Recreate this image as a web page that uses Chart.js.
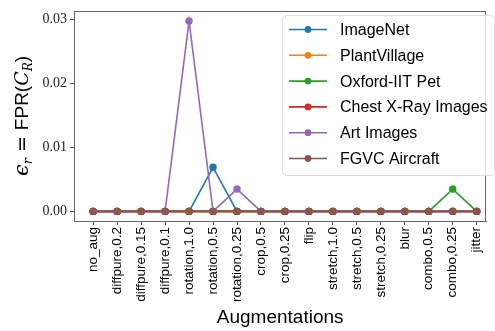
<!DOCTYPE html>
<html><head><meta charset="utf-8">
<script src="https://cdn.jsdelivr.net/npm/chart.js@4/dist/chart.umd.min.js"></script>
<style>html,body{margin:0;padding:0;background:#fff}#w{width:495px;height:331px}</style>
</head><body><div id="w"><canvas id="c"></canvas></div>
<script>
const categories = ["no_aug","diffpure,0.2","diffpure,0.15","diffpure,0.1","rotation,1.0","rotation,0.5","rotation,0.25","crop,0.5","crop,0.25","flip","stretch,1.0","stretch,0.5","stretch,0.25","blur","combo,0.5","combo,0.25","jitter"];
const imagenet    = [0,0,0,0,0,0.0069,0,0,0,0,0,0,0,0,0,0,0];
const plantvillage= [0,0,0,0,0,0,0,0,0,0,0,0,0,0,0,0,0];
const oxfordPet   = [0,0,0,0,0,0,0,0,0,0,0,0,0,0,0,0.0035,0];
const chestXray   = [0,0,0,0,0,0,0,0,0,0,0,0,0,0,0,0,0];
const artImages   = [0,0,0,0,0.0298,0,0.0035,0,0,0,0,0,0,0,0,0,0];
const fgvc        = [0,0,0,0,0,0,0,0,0,0,0,0,0,0,0,0,0];
const seriesNames = ["ImageNet","PlantVillage","Oxford-IIT Pet","Chest X-Ray Images","Art Images","FGVC Aircraft"];
const seriesData  = [imagenet, plantvillage, oxfordPet, chestXray, artImages, fgvc];
const colors = ["#1f77b4","#ff7f0e","#2ca02c","#d62728","#9467bd","#8c564b"];
const yTicks = [0, 0.01, 0.02, 0.03];

const datasets = seriesData.map((d, i) => ({
  label: seriesNames[i],
  data: d.map((v, j) => ({x: j, y: v})),
  borderColor: colors[i], backgroundColor: colors[i],
  pointBackgroundColor: colors[i], pointBorderColor: colors[i],
  borderWidth: 1.6, pointRadius: 3.7, pointBorderWidth: 0,
  order: seriesNames.length - i, tension: 0
}));

const frame = {
  id: 'frame',
  afterDatasetsDraw(chart) {
    const a = chart.chartArea, ctx = chart.ctx;
    ctx.save(); ctx.strokeStyle = '#666'; ctx.lineWidth = 1;
    ctx.strokeRect(Math.round(a.left)+0.5, Math.round(a.top)+0.5, Math.round(a.right-a.left)-1, Math.round(a.bottom-a.top));
    ctx.restore();
  }
};
const legendP = {
  id: 'legendP',
  afterDraw(chart) {
    const ctx = chart.ctx;
    const x0 = 282, y0 = 15, w = 212, h = 160;
    ctx.save();
    ctx.globalAlpha = 0.8; ctx.fillStyle = '#fff';
    ctx.beginPath(); ctx.roundRect(x0+0.5, y0+0.5, w, h, 4); ctx.fill();
    ctx.globalAlpha = 1; ctx.strokeStyle = '#dedede'; ctx.lineWidth = 1; ctx.stroke();
    ctx.font = '16px "Liberation Sans"'; ctx.textBaseline = 'middle'; ctx.textAlign = 'left';
    seriesNames.forEach((n, i) => {
      const y = 29.5 + i * 25.8;
      ctx.strokeStyle = colors[i]; ctx.lineWidth = 1.6;
      ctx.beginPath(); ctx.moveTo(289, y); ctx.lineTo(327, y); ctx.stroke();
      ctx.fillStyle = colors[i]; ctx.beginPath(); ctx.arc(308, y, 3.4, 0, Math.PI*2); ctx.fill();
      ctx.fillStyle = '#000'; ctx.fillText(n, 340, y + 1);
    });
    ctx.restore();
  }
};
const yTitle = {
  id: 'yTitle',
  afterDraw(chart) {
    const ctx = chart.ctx;
    const segs = [
      {t:'ϵ', f:'italic 21px "DejaVu Serif"', dy:0},
      {t:'r', f:'italic 13px "DejaVu Serif"', dy:4},
      {t:' = ', f:'19px "DejaVu Sans"', dy:0},
      {t:'FPR(', f:'19px "Liberation Sans"', dy:0},
      {t:'C', f:'italic 19px "DejaVu Serif"', dy:0},
      {t:'R', f:'italic 12px "DejaVu Serif"', dy:4},
      {t:')', f:'19px "Liberation Sans"', dy:0}
    ];
    ctx.save();
    let total = 0;
    segs.forEach(s => { ctx.font = s.f; s.w = ctx.measureText(s.t).width; total += s.w; });
    ctx.translate(28, 116); ctx.rotate(-Math.PI/2);
    ctx.fillStyle = '#000'; ctx.textBaseline = 'alphabetic'; ctx.textAlign = 'left';
    let x = -total/2;
    segs.forEach(s => { ctx.font = s.f; ctx.fillText(s.t, x, s.dy); x += s.w; });
    ctx.restore();
  }
};

new Chart(document.getElementById('c'), {
  type: 'line',
  data: { datasets },
  options: {
    responsive: true, maintainAspectRatio: false, animation: false,
    layout: { padding: { top: 5, right: 1, left: 0, bottom: 0 } },
    plugins: { legend: { display: false }, tooltip: { enabled: false } },
    scales: {
      x: {
        type: 'linear', min: -0.8, max: 16.4,
        afterBuildTicks: s => { s.ticks = categories.map((_, i) => ({ value: i })); },
        afterFit: s => { s.height = 110; },
        ticks: { callback: v => categories[v], minRotation: 90, maxRotation: 90, autoSkip: false,
                 font: { family: 'Liberation Sans', size: 13.5 }, color: '#000', padding: 2 },
        grid: { drawOnChartArea: false, drawTicks: true, tickLength: 4, color: '#555' },
        border: { display: true, color: '#666' },
        title: { display: true, text: 'Augmentations', font: { family: 'Liberation Sans', size: 19 }, color: '#000', padding: { top: 0, bottom: 2 } }
      },
      y: {
        min: -0.0015, max: 0.0313,
        afterBuildTicks: s => { s.ticks = yTicks.map(v => ({ value: v })); },
        afterFit: s => { s.width = 74; },
        ticks: { callback: v => v.toFixed(2), font: { family: 'Liberation Serif', size: 14 }, color: '#222', padding: 3 },
        grid: { drawOnChartArea: false, drawTicks: true, tickLength: 4, color: '#555' },
        border: { display: true, color: '#666' }
      }
    }
  },
  plugins: [frame, legendP, yTitle]
});
</script></body></html>
